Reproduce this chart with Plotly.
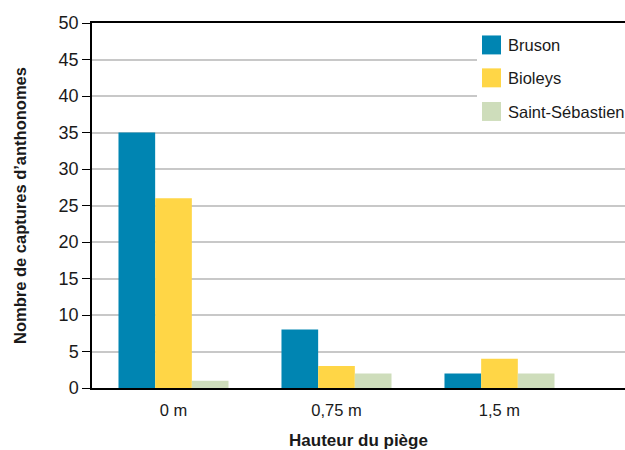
import plotly.graph_objects as go

categories = ["0 m", "0,75 m", "1,5 m"]
series_names = ["Bruson", "Bioleys", "Saint-Sébastien"]
bruson = [35, 8, 2]
bioleys = [26, 3, 4]
saint_sebastien = [1, 2, 2]
colors = ["#0085B2", "#FFD646", "#CEDDBB"]
y_ticks = list(range(0, 51, 5))

FONT = "Liberation Sans, Arial, sans-serif"

PL, PR, PT, PB = 92, 625, 22.5, 388.5   # plot area in window pixels


def px(X):
    return (X - PL) / (PR - PL)


def py(Y):
    return (PB - Y) / (PB - PT)


fig = go.Figure()
for name, vals, col in zip(series_names, [bruson, bioleys, saint_sebastien], colors):
    fig.add_trace(go.Bar(x=categories, y=vals, name=name, marker_color=col,
                         marker_line_width=0, showlegend=False, hoverinfo="skip"))

shapes = [dict(type="rect", xref="paper", yref="paper", x0=px(477), x1=1.0,
               y0=py(128), y1=py(24), fillcolor="white", line_width=0, layer="above")]
annotations = []
row_tops = [35, 68, 101.7]
for name, col, top in zip(series_names, colors, row_tops):
    shapes.append(dict(type="rect", xref="paper", yref="paper",
                       x0=px(482), x1=px(501), y0=py(top + 19), y1=py(top),
                       fillcolor=col, line_width=0, layer="above"))
    annotations.append(dict(text=name, xref="paper", yref="paper",
                            x=px(506), y=py(top + 10),
                            xanchor="left", yanchor="middle", showarrow=False,
                            font=dict(family=FONT, size=16.5, color="#1a1a1a")))

fig.update_layout(
    width=625, height=450,
    margin=dict(l=PL, r=0, t=PT, b=450 - PB),
    paper_bgcolor="white", plot_bgcolor="white",
    barmode="group", bargap=0.325, bargroupgap=0,
    font=dict(family=FONT, size=17, color="#1a1a1a"),
    shapes=shapes, annotations=annotations,
    xaxis=dict(range=[-0.5, 2.77], showline=True, linecolor="black", linewidth=1.5,
               mirror=True, ticks="", showgrid=False, ticklabelstandoff=6,
               tickfont=dict(size=16.5),
               title=dict(text="<b>Hauteur du piège</b>", font=dict(size=17), standoff=17)),
    yaxis=dict(range=[0, 50], tickvals=y_ticks, showline=True, linecolor="black",
               linewidth=1.5, ticks="outside", ticklen=8, tickcolor="black", tickwidth=1.2,
               showgrid=True, gridcolor="#c8c8c8", gridwidth=1.8, zeroline=False,
               tickfont=dict(size=18),
               title=dict(text="<b>Nombre de captures d’anthonomes</b>", font=dict(size=16.5),
                          standoff=28)),
)

fig.write_html("out.html", config={"displayModeBar": False},
               post_script="document.body.style.margin='0';document.body.style.overflow='hidden';")
